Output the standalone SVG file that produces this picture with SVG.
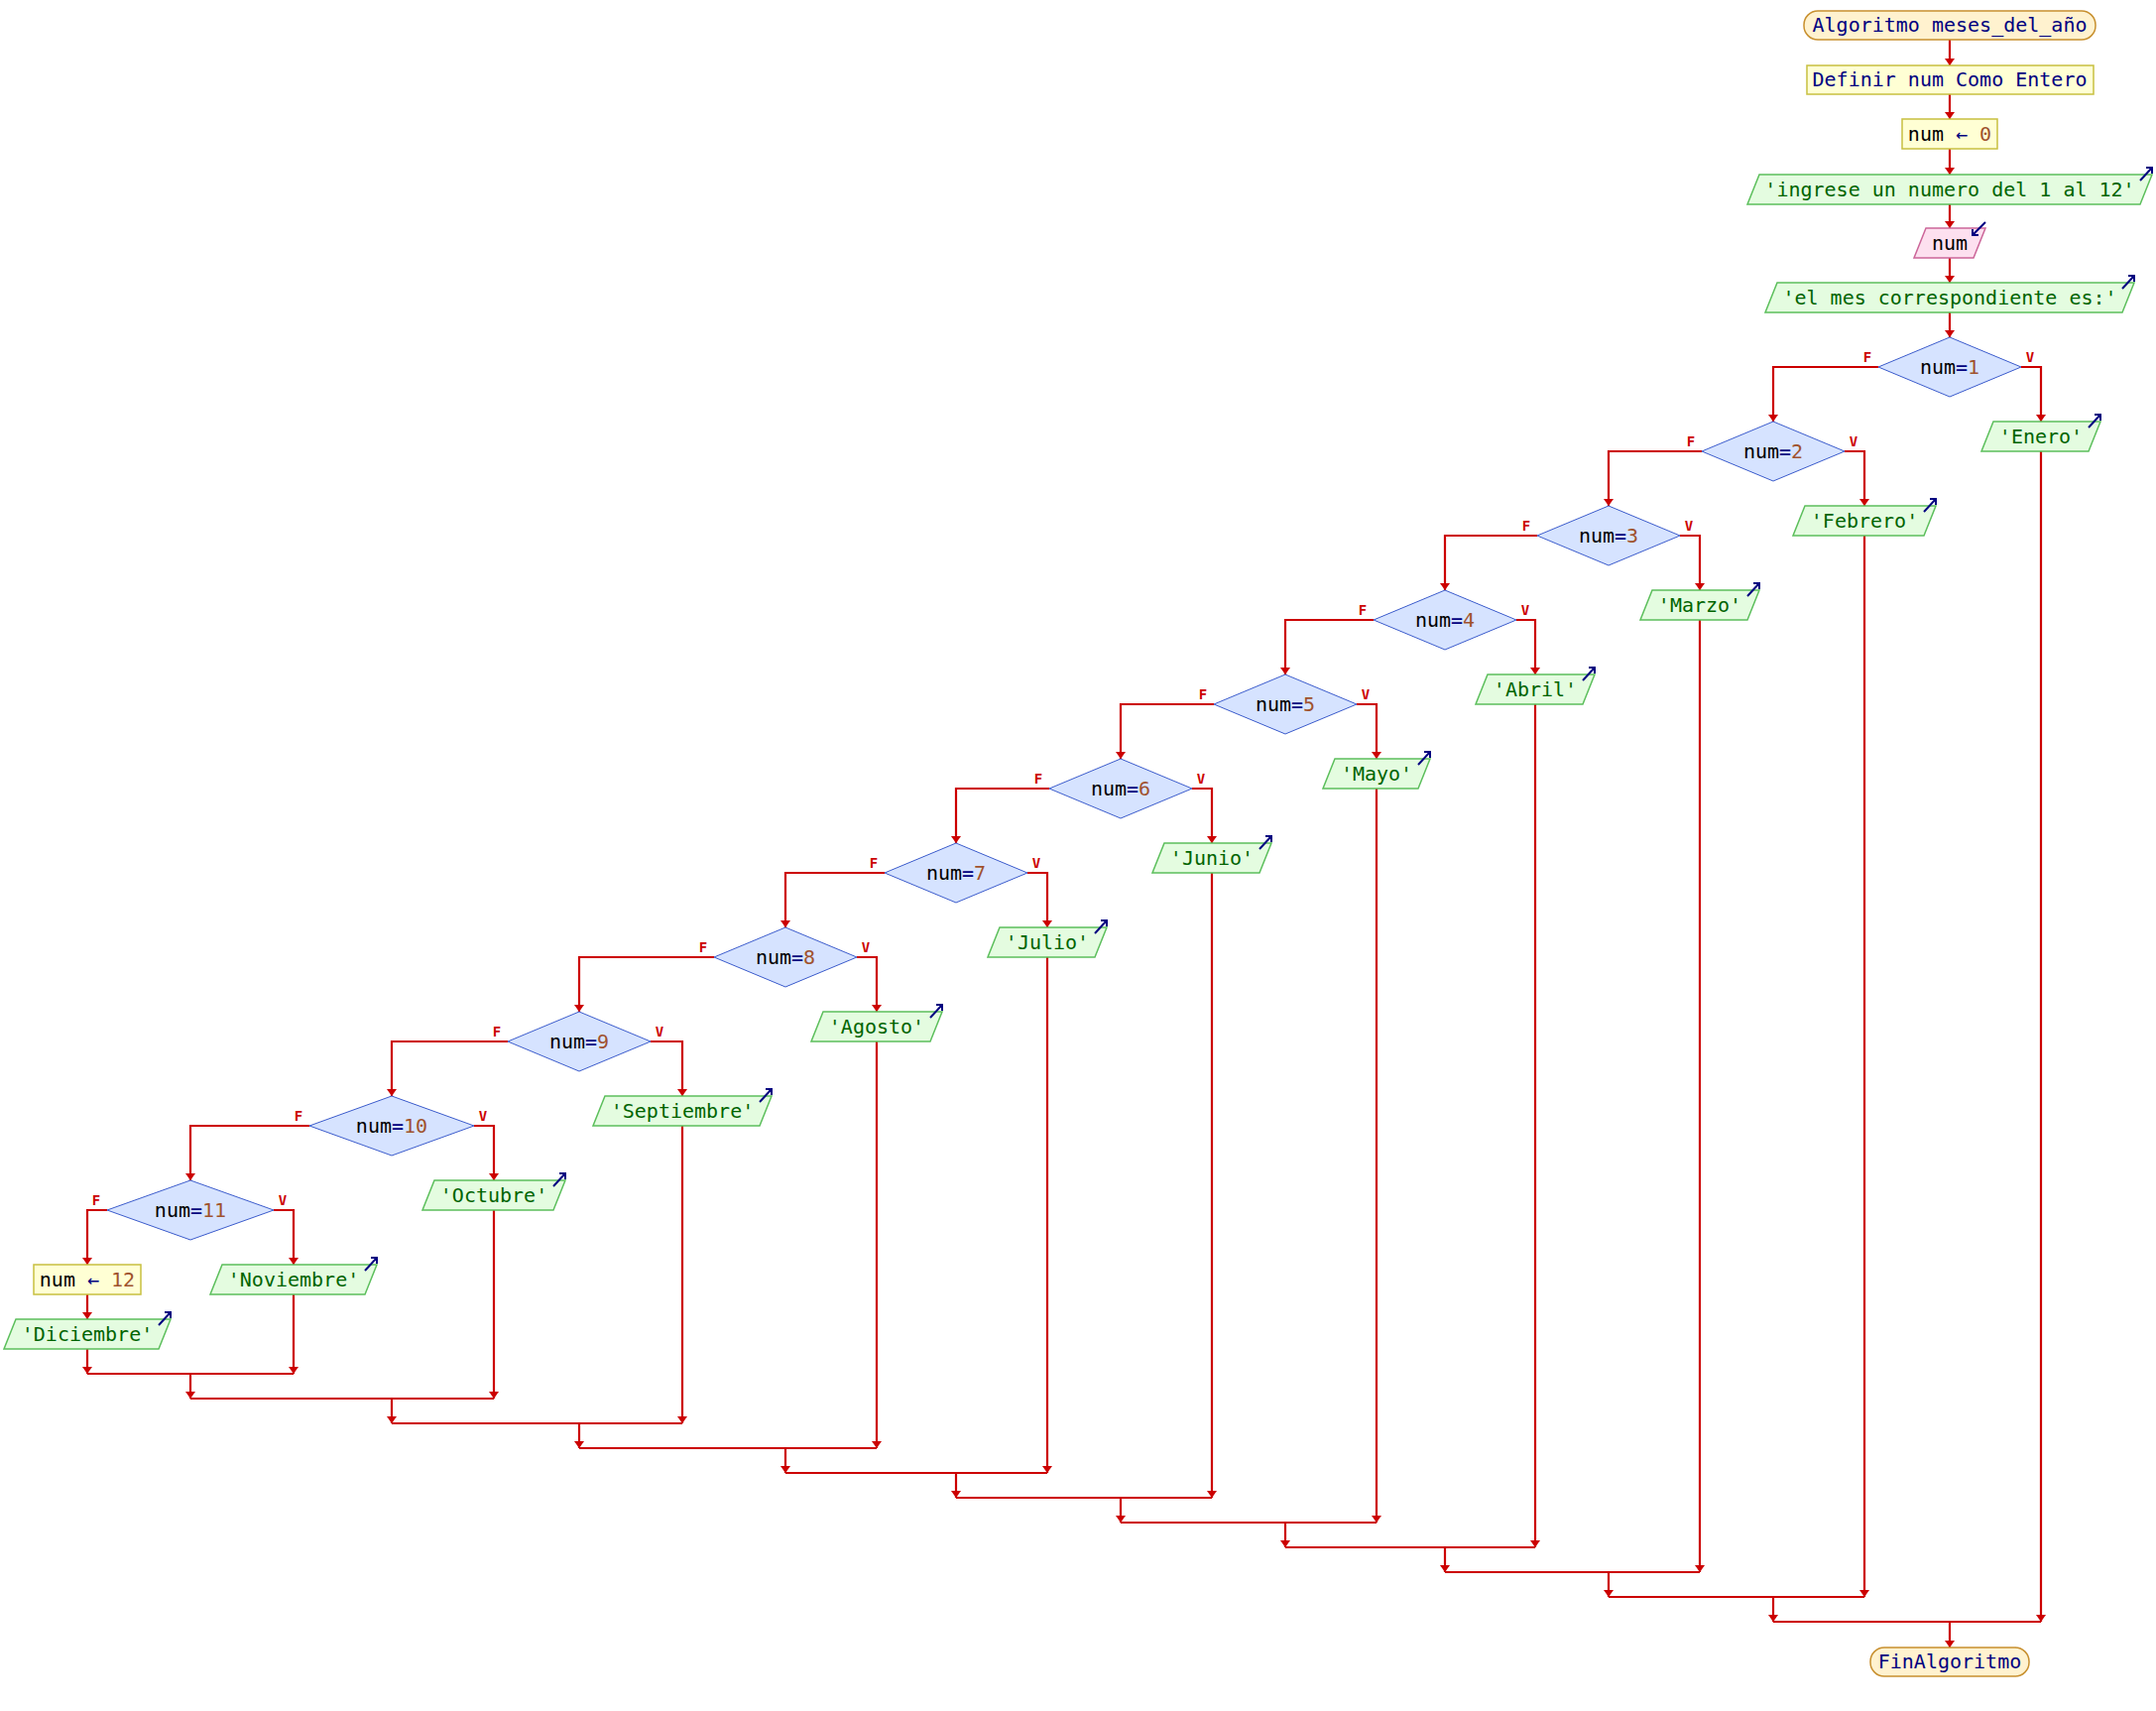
<svg xmlns="http://www.w3.org/2000/svg" xmlns:xlink="http://www.w3.org/1999/xlink" width="2174" height="1725" viewBox="0 0 2174 1725">
<style>
.term{fill:#fff2cf;stroke:#c8902f;stroke-width:1.5}
.proc{fill:#ffffd4;stroke:#c8c040;stroke-width:1.5}
.out{fill:#e4fce0;stroke:#5cbf5c;stroke-width:1.5}
.inp{fill:#fde0ef;stroke:#cc6699;stroke-width:1.5}
.dec{fill:#d6e3ff;stroke:#3c5ccc;stroke-width:1}
.t{font-family:"DejaVu Sans Mono","Liberation Mono",monospace;font-size:20px;text-anchor:middle}
.kw{fill:#000080}
.str{fill:#006400}
.n{fill:#a0522d}
.v{fill:#000000}
.op{fill:#000080}
.lbl{font-family:"DejaVu Sans Mono","Liberation Mono",monospace;font-size:14px;font-weight:bold;fill:#cc0000;text-anchor:middle}
.c{fill:none;stroke:#cc0000;stroke-width:2.2}
.icon{fill:none;stroke:#000080;stroke-width:2}
</style>
<defs>
<marker id="ah" markerUnits="userSpaceOnUse" markerWidth="8" markerHeight="11" refX="7" refY="5.5" orient="auto" viewBox="0 0 8 11">
<path d="M0,0.5 L7,5.5 L0,10.5 z" fill="#cc0000"/>
</marker>
<g id="outIcon"><path class="icon" d="M-12,13 L0,0 M-6,0 H0 V6"/></g>
</defs>

<g id="connectors">
<path class="c" marker-end="url(#ah)" d="M1966,40 V66"/>
<path class="c" marker-end="url(#ah)" d="M1966,95 V120"/>
<path class="c" marker-end="url(#ah)" d="M1966,150 V176"/>
<path class="c" marker-end="url(#ah)" d="M1966,206 V230"/>
<path class="c" marker-end="url(#ah)" d="M1966,260 V285"/>
<path class="c" marker-end="url(#ah)" d="M1966,315 V340"/>

<!-- diamond 1 -->
<path class="c" marker-end="url(#ah)" d="M1894,370 H1788 V425"/>
<path class="c" marker-end="url(#ah)" d="M2038,370 H2058 V425"/>
<path class="c" marker-end="url(#ah)" d="M2058,455 V1635"/>
<path class="c" d="M1788,1635 H2058"/>
<path class="c" marker-end="url(#ah)" d="M1788,1610 V1635"/>
<!-- diamond 2 -->
<path class="c" marker-end="url(#ah)" d="M1716,455 H1622 V510"/>
<path class="c" marker-end="url(#ah)" d="M1860,455 H1880 V510"/>
<path class="c" marker-end="url(#ah)" d="M1880,540 V1610"/>
<path class="c" d="M1622,1610 H1880"/>
<path class="c" marker-end="url(#ah)" d="M1622,1585 V1610"/>
<!-- diamond 3 -->
<path class="c" marker-end="url(#ah)" d="M1550,540 H1457 V595"/>
<path class="c" marker-end="url(#ah)" d="M1694,540 H1714 V595"/>
<path class="c" marker-end="url(#ah)" d="M1714,625 V1585"/>
<path class="c" d="M1457,1585 H1714"/>
<path class="c" marker-end="url(#ah)" d="M1457,1560 V1585"/>
<!-- diamond 4 -->
<path class="c" marker-end="url(#ah)" d="M1385,625 H1296 V680"/>
<path class="c" marker-end="url(#ah)" d="M1529,625 H1548 V680"/>
<path class="c" marker-end="url(#ah)" d="M1548,710 V1560"/>
<path class="c" d="M1296,1560 H1548"/>
<path class="c" marker-end="url(#ah)" d="M1296,1535 V1560"/>
<!-- diamond 5 -->
<path class="c" marker-end="url(#ah)" d="M1224,710 H1130 V765"/>
<path class="c" marker-end="url(#ah)" d="M1368,710 H1388 V765"/>
<path class="c" marker-end="url(#ah)" d="M1388,795 V1535"/>
<path class="c" d="M1130,1535 H1388"/>
<path class="c" marker-end="url(#ah)" d="M1130,1510 V1535"/>
<!-- diamond 6 -->
<path class="c" marker-end="url(#ah)" d="M1058,795 H964 V850"/>
<path class="c" marker-end="url(#ah)" d="M1202,795 H1222 V850"/>
<path class="c" marker-end="url(#ah)" d="M1222,880 V1510"/>
<path class="c" d="M964,1510 H1222"/>
<path class="c" marker-end="url(#ah)" d="M964,1485 V1510"/>
<!-- diamond 7 -->
<path class="c" marker-end="url(#ah)" d="M892,880 H792 V935"/>
<path class="c" marker-end="url(#ah)" d="M1036,880 H1056 V935"/>
<path class="c" marker-end="url(#ah)" d="M1056,965 V1485"/>
<path class="c" d="M792,1485 H1056"/>
<path class="c" marker-end="url(#ah)" d="M792,1460 V1485"/>
<!-- diamond 8 -->
<path class="c" marker-end="url(#ah)" d="M720,965 H584 V1020"/>
<path class="c" marker-end="url(#ah)" d="M864,965 H884 V1020"/>
<path class="c" marker-end="url(#ah)" d="M884,1050 V1460"/>
<path class="c" d="M584,1460 H884"/>
<path class="c" marker-end="url(#ah)" d="M584,1435 V1460"/>
<!-- diamond 9 -->
<path class="c" marker-end="url(#ah)" d="M512,1050 H395 V1105"/>
<path class="c" marker-end="url(#ah)" d="M656,1050 H688 V1105"/>
<path class="c" marker-end="url(#ah)" d="M688,1135 V1435"/>
<path class="c" d="M395,1435 H688"/>
<path class="c" marker-end="url(#ah)" d="M395,1410 V1435"/>
<!-- diamond 10 -->
<path class="c" marker-end="url(#ah)" d="M312,1135 H192 V1190"/>
<path class="c" marker-end="url(#ah)" d="M478,1135 H498 V1190"/>
<path class="c" marker-end="url(#ah)" d="M498,1220 V1410"/>
<path class="c" d="M192,1410 H498"/>
<path class="c" marker-end="url(#ah)" d="M192,1385 V1410"/>
<!-- diamond 11 -->
<path class="c" marker-end="url(#ah)" d="M108,1220 H88 V1275"/>
<path class="c" marker-end="url(#ah)" d="M276,1220 H296 V1275"/>
<path class="c" marker-end="url(#ah)" d="M88,1305 V1330"/>
<path class="c" marker-end="url(#ah)" d="M88,1360 V1385"/>
<path class="c" marker-end="url(#ah)" d="M296,1305 V1385"/>
<path class="c" d="M88,1385 H296"/>
<!-- to end -->
<path class="c" marker-end="url(#ah)" d="M1966,1635 V1661"/>

<text class="lbl" x="1883" y="365">F</text><text class="lbl" x="2047" y="365">V</text>
<text class="lbl" x="1705" y="450">F</text><text class="lbl" x="1869" y="450">V</text>
<text class="lbl" x="1539" y="535">F</text><text class="lbl" x="1703" y="535">V</text>
<text class="lbl" x="1374" y="620">F</text><text class="lbl" x="1538" y="620">V</text>
<text class="lbl" x="1213" y="705">F</text><text class="lbl" x="1377" y="705">V</text>
<text class="lbl" x="1047" y="790">F</text><text class="lbl" x="1211" y="790">V</text>
<text class="lbl" x="881" y="875">F</text><text class="lbl" x="1045" y="875">V</text>
<text class="lbl" x="709" y="960">F</text><text class="lbl" x="873" y="960">V</text>
<text class="lbl" x="501" y="1045">F</text><text class="lbl" x="665" y="1045">V</text>
<text class="lbl" x="301" y="1130">F</text><text class="lbl" x="487" y="1130">V</text>
<text class="lbl" x="97" y="1215">F</text><text class="lbl" x="285" y="1215">V</text>
</g>

<g id="start">
<rect class="term" x="1819" y="11" width="294" height="29" rx="14" ry="14"/>
<text class="t kw" x="1966" y="32">Algoritmo meses_del_año</text>
</g>
<g id="definir">
<rect class="proc" x="1822" y="66" width="289" height="29"/>
<text class="t kw" x="1966" y="87">Definir num Como Entero</text>
</g>
<g id="asignar0">
<rect class="proc" x="1918" y="120" width="96" height="30"/>
<text class="t" x="1966" y="142"><tspan class="v">num</tspan> <tspan class="op">←</tspan> <tspan class="n">0</tspan></text>
</g>
<g id="escribir_ingrese">
<path class="out" d="M1774,176 H2170 L2158,206 H1762 Z"/>
<text class="t str" x="1966" y="198">'ingrese un numero del 1 al 12'</text>
<use href="#outIcon" x="2170" y="169"/>
</g>
<g id="leer_num">
<path class="inp" d="M1942,230 H2002 L1990,260 H1930 Z"/>
<text class="t v" x="1966" y="252">num</text>
<path class="icon" d="M2002,224 L1989,237 M1989,231 V237 H1995"/>
</g>
<g id="escribir_mes">
<path class="out" d="M1792,285 H2152 L2140,315 H1780 Z"/>
<text class="t str" x="1966" y="307">'el mes correspondiente es:'</text>
<use href="#outIcon" x="2152" y="278"/>
</g>

<g id="si1">
<polygon class="dec" points="1966,340 2038,370 1966,400 1894,370"/>
<text class="t" x="1966" y="377"><tspan class="v">num</tspan><tspan class="op">=</tspan><tspan class="n">1</tspan></text>
</g>
<g id="si2">
<polygon class="dec" points="1788,425 1860,455 1788,485 1716,455"/>
<text class="t" x="1788" y="462"><tspan class="v">num</tspan><tspan class="op">=</tspan><tspan class="n">2</tspan></text>
</g>
<g id="si3">
<polygon class="dec" points="1622,510 1694,540 1622,570 1550,540"/>
<text class="t" x="1622" y="547"><tspan class="v">num</tspan><tspan class="op">=</tspan><tspan class="n">3</tspan></text>
</g>
<g id="si4">
<polygon class="dec" points="1457,595 1529,625 1457,655 1385,625"/>
<text class="t" x="1457" y="632"><tspan class="v">num</tspan><tspan class="op">=</tspan><tspan class="n">4</tspan></text>
</g>
<g id="si5">
<polygon class="dec" points="1296,680 1368,710 1296,740 1224,710"/>
<text class="t" x="1296" y="717"><tspan class="v">num</tspan><tspan class="op">=</tspan><tspan class="n">5</tspan></text>
</g>
<g id="si6">
<polygon class="dec" points="1130,765 1202,795 1130,825 1058,795"/>
<text class="t" x="1130" y="802"><tspan class="v">num</tspan><tspan class="op">=</tspan><tspan class="n">6</tspan></text>
</g>
<g id="si7">
<polygon class="dec" points="964,850 1036,880 964,910 892,880"/>
<text class="t" x="964" y="887"><tspan class="v">num</tspan><tspan class="op">=</tspan><tspan class="n">7</tspan></text>
</g>
<g id="si8">
<polygon class="dec" points="792,935 864,965 792,995 720,965"/>
<text class="t" x="792" y="972"><tspan class="v">num</tspan><tspan class="op">=</tspan><tspan class="n">8</tspan></text>
</g>
<g id="si9">
<polygon class="dec" points="584,1020 656,1050 584,1080 512,1050"/>
<text class="t" x="584" y="1057"><tspan class="v">num</tspan><tspan class="op">=</tspan><tspan class="n">9</tspan></text>
</g>
<g id="si10">
<polygon class="dec" points="395,1105 478,1135 395,1165 312,1135"/>
<text class="t" x="395" y="1142"><tspan class="v">num</tspan><tspan class="op">=</tspan><tspan class="n">10</tspan></text>
</g>
<g id="si11">
<polygon class="dec" points="192,1190 276,1220 192,1250 108,1220"/>
<text class="t" x="192" y="1227"><tspan class="v">num</tspan><tspan class="op">=</tspan><tspan class="n">11</tspan></text>
</g>

<g id="enero">
<path class="out" d="M2010,425 H2118 L2106,455 H1998 Z"/>
<text class="t str" x="2058" y="447">'Enero'</text>
<use href="#outIcon" x="2118" y="418"/>
</g>
<g id="febrero">
<path class="out" d="M1820,510 H1952 L1940,540 H1808 Z"/>
<text class="t str" x="1880" y="532">'Febrero'</text>
<use href="#outIcon" x="1952" y="503"/>
</g>
<g id="marzo">
<path class="out" d="M1666,595 H1774 L1762,625 H1654 Z"/>
<text class="t str" x="1714" y="617">'Marzo'</text>
<use href="#outIcon" x="1774" y="588"/>
</g>
<g id="abril">
<path class="out" d="M1500,680 H1608 L1596,710 H1488 Z"/>
<text class="t str" x="1548" y="702">'Abril'</text>
<use href="#outIcon" x="1608" y="673"/>
</g>
<g id="mayo">
<path class="out" d="M1346,765 H1442 L1430,795 H1334 Z"/>
<text class="t str" x="1388" y="787">'Mayo'</text>
<use href="#outIcon" x="1442" y="758"/>
</g>
<g id="junio">
<path class="out" d="M1174,850 H1282 L1270,880 H1162 Z"/>
<text class="t str" x="1222" y="872">'Junio'</text>
<use href="#outIcon" x="1282" y="843"/>
</g>
<g id="julio">
<path class="out" d="M1008,935 H1116 L1104,965 H996 Z"/>
<text class="t str" x="1056" y="957">'Julio'</text>
<use href="#outIcon" x="1116" y="928"/>
</g>
<g id="agosto">
<path class="out" d="M830,1020 H950 L938,1050 H818 Z"/>
<text class="t str" x="884" y="1042">'Agosto'</text>
<use href="#outIcon" x="950" y="1013"/>
</g>
<g id="septiembre">
<path class="out" d="M610,1105 H778 L766,1135 H598 Z"/>
<text class="t str" x="688" y="1127">'Septiembre'</text>
<use href="#outIcon" x="778" y="1098"/>
</g>
<g id="octubre">
<path class="out" d="M438,1190 H570 L558,1220 H426 Z"/>
<text class="t str" x="498" y="1212">'Octubre'</text>
<use href="#outIcon" x="570" y="1183"/>
</g>
<g id="noviembre">
<path class="out" d="M224,1275 H380 L368,1305 H212 Z"/>
<text class="t str" x="296" y="1297">'Noviembre'</text>
<use href="#outIcon" x="380" y="1268"/>
</g>
<g id="asignar12">
<rect class="proc" x="34" y="1275" width="108" height="30"/>
<text class="t" x="88" y="1297"><tspan class="v">num</tspan> <tspan class="op">←</tspan> <tspan class="n">12</tspan></text>
</g>
<g id="diciembre">
<path class="out" d="M16,1330 H172 L160,1360 H4 Z"/>
<text class="t str" x="88" y="1352">'Diciembre'</text>
<use href="#outIcon" x="172" y="1323"/>
</g>

<g id="fin">
<rect class="term" x="1886" y="1661" width="160" height="29" rx="14" ry="14"/>
<text class="t kw" x="1966" y="1682">FinAlgoritmo</text>
</g>
</svg>
